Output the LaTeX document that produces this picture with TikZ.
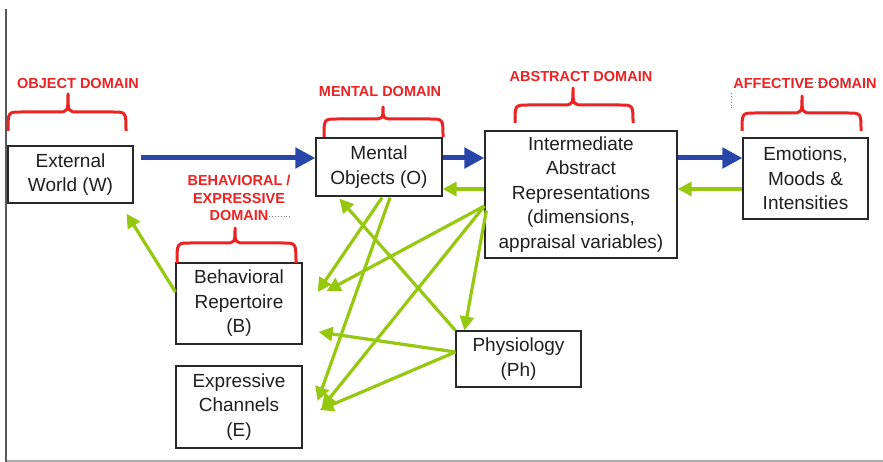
\documentclass[tikz,border=0pt]{standalone}
\usepackage{fontspec}
\setmainfont{Liberation Sans}
\usetikzlibrary{arrows.meta,calc}

\definecolor{domred}{RGB}{235,35,35}
\definecolor{flowblue}{RGB}{40,70,170}
\definecolor{feedgreen}{RGB}{150,200,15}
\definecolor{boxgray}{RGB}{40,40,40}
\definecolor{framegray}{RGB}{90,90,90}
\definecolor{rulegray}{RGB}{170,170,170}

% curly brace opening downwards: x-left, x-right, x-tip, y-ends, y-flat, y-tip
\newcommand\dombrace[6]{%
  \draw[brace] (#1,#4) .. controls (#1,#5) .. ({#1+13},#5) -- ({#3-11},#5)
    .. controls (#3,#5) .. (#3,#6) .. controls (#3,#5) .. ({#3+11},#5)
    -- ({#2-13},#5) .. controls (#2,#5) .. (#2,#4);}

\begin{document}
\begin{tikzpicture}[x=1pt,y=-1pt,
  box/.style={draw=boxgray,line width=1.2pt,fill=white,inner sep=0pt,
    align=center,text=black!88,font=\fontsize{19}{24.5}\selectfont},
  domlabel/.style={text=domred,inner sep=0pt,align=center,
    font=\fontsize{14.5}{17.5}\selectfont\bfseries},
  flow/.style={draw=flowblue,line width=5pt,-{Triangle[length=20pt,width=20pt]}},
  feed/.style={draw=feedgreen,line width=3.2pt,-{Triangle[length=14pt,width=14pt]}},
  brace/.style={draw=domred,line width=3pt,line join=round},
  crumbs/.style={draw=gray,line width=0.9pt,dotted}]

\useasboundingbox (0,0) rectangle (883,462);
\fill[white] (0,0) rectangle (883,462);

% page frame
\draw[rulegray,line width=1.5pt] (6,461) -- (883,461);
\draw[framegray,line width=2pt] (6,9) -- (6,462);

% boxes
\node[box,minimum width=125pt,minimum height=57pt] (W) at (70.5,174.5) {External\\World (W)};
\node[box,minimum width=126pt,minimum height=58pt] (O) at (379,167) {Mental\\Objects (O)};
\node[box,minimum width=192pt,minimum height=127pt] (I) at (581,194.5)
  {Intermediate\\Abstract\\Representations\\(dimensions,\\appraisal variables)};
\node[box,minimum width=125pt,minimum height=81pt] (Em) at (805.5,178.5) {Emotions,\\Moods \&\\Intensities};
\node[box,minimum width=126pt,minimum height=81pt] (B) at (239,303.5) {Behavioral\\Repertoire\\(B)};
\node[box,minimum width=126pt,minimum height=82pt] (E) at (239,407) {Expressive\\Channels\\(E)};
\node[box,minimum width=125pt,minimum height=56pt] (Ph) at (518.5,359) {Physiology\\(Ph)};

% domain labels and braces
\node[domlabel] (objlbl) at (78,84) {OBJECT DOMAIN};
\dombrace{8}{126}{68}{131}{112}{94}
\node[domlabel] (mentlbl) at (380,92) {MENTAL DOMAIN};
\dombrace{324}{443}{383}{137}{119}{107}
\node[domlabel] (abslbl) at (581,77) {ABSTRACT DOMAIN};
\dombrace{515}{633}{573}{123}{105}{88}
\node[domlabel] (afflbl) at (805,84) {AFFECTIVE DOMAIN};
\dombrace{742}{861}{802}{131}{113}{96}
\node[domlabel] (behlbl) at (239,198) {BEHAVIORAL /\\EXPRESSIVE\\DOMAIN};
\dombrace{177}{296}{235}{263}{243}{228}

% stray dotted marks
\draw[crumbs] (269,216) -- (292,216);
\draw[crumbs,draw=teal!60!gray] (812,82) -- (852,82);
\draw[crumbs] (731,93) -- (731,110);

% forward flow
\draw[flow] ($(W.east)+(7,-16.5)$) -- ($(O.west)+(0,-9)$);
\draw[flow] ($(O.east)+(0,-9)$) -- ($(I.west)+(0,-36.5)$);
\draw[flow] ($(I.east)+(0,-36.5)$) -- ($(Em.west)+(0,-20.5)$);

% feedback and influence links
\draw[feed] ($(Em.west)+(0,10.5)$) -- ($(I.east)+(0,-5.5)$);
\draw[feed] ($(I.west)+(0,-5.5)$) -- ($(O.east)+(0,22)$);
\draw[feed] ($(B.west)+(0,-11.5)$) -- ($(W.south east)+(-7,10)$);
\draw[feed] ($(O.south)+(3,1)$) -- ($(B.east)+(15,-11.5)$);
\draw[feed] ($(O.south)+(11,1)$) -- ($(E.east)+(15,-6)$);
\draw[feed] ($(I.west)+(0,11.5)$) -- ($(B.east)+(24,-12.5)$);
\draw[feed] ($(I.west)+(0,11.5)$) -- ($(E.east)+(19,1)$);
\draw[feed] ($(I.west)+(2,16)$) -- ($(Ph.north west)+(9,0)$);
\draw[feed] (Ph.north west) -- ($(O.south west)+(24,2)$);
\draw[feed] ($(Ph.west)+(0,-7)$) -- ($(B.east)+(16,28.5)$);
\draw[feed] ($(Ph.west)+(0,-7)$) -- ($(E.east)+(17,3)$);
\end{tikzpicture}
\end{document}
